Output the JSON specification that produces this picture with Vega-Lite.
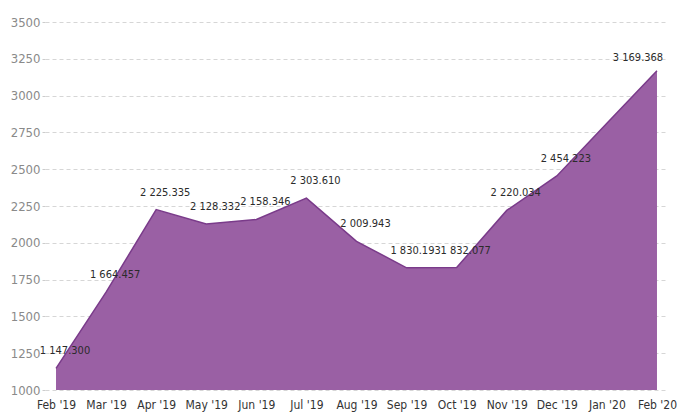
{
  "$schema": "https://vega.github.io/schema/vega-lite/v6.json",
  "width": 623,
  "height": 368,
  "autosize": {"type": "none"},
  "padding": {"left": 45, "top": 22, "right": 9, "bottom": 28},
  "background": "white",
  "config": {
    "view": {"stroke": null},
    "font": "DejaVu Sans Condensed"
  },
  "data": {
    "values": [
      {"month": "Feb '19", "value": 1147.300, "label": "1 147.300"},
      {"month": "Mar '19", "value": 1664.457, "label": "1 664.457"},
      {"month": "Apr '19", "value": 2225.335, "label": "2 225.335"},
      {"month": "May '19", "value": 2128.332, "label": "2 128.332"},
      {"month": "Jun '19", "value": 2158.346, "label": "2 158.346"},
      {"month": "Jul '19", "value": 2303.610, "label": "2 303.610"},
      {"month": "Aug '19", "value": 2009.943, "label": "2 009.943"},
      {"month": "Sep '19", "value": 1830.193, "label": "1 830.193"},
      {"month": "Oct '19", "value": 1832.077, "label": "1 832.077"},
      {"month": "Nov '19", "value": 2220.034, "label": "2 220.034"},
      {"month": "Dec '19", "value": 2454.223, "label": "2 454.223"},
      {"month": "Jan '20", "value": 2812, "label": ""},
      {"month": "Feb '20", "value": 3169.368, "label": "3 169.368"}
    ]
  },
  "encoding": {
    "x": {
      "field": "month",
      "type": "ordinal",
      "sort": null,
      "scale": {"type": "point", "padding": 0.22},
      "axis": {
        "title": null,
        "labelAngle": 0,
        "labelOverlap": false,
        "domain": false,
        "ticks": false,
        "labelFontSize": 12,
        "labelColor": "#333333",
        "labelPadding": 9
      }
    },
    "y": {
      "field": "value",
      "type": "quantitative",
      "scale": {"domain": [1000, 3500], "nice": false, "zero": false},
      "axis": {
        "title": null,
        "format": "d",
        "values": [1000, 1250, 1500, 1750, 2000, 2250, 2500, 2750, 3000, 3250, 3500],
        "domain": false,
        "ticks": true,
        "tickSize": 3,
        "tickColor": "#cccccc",
        "grid": true,
        "gridColor": "#d6d6d6",
        "gridDash": [4, 3],
        "labelFontSize": 13,
        "labelColor": "#8a8a8a",
        "labelPadding": 2
      }
    }
  },
  "layer": [
    {
      "mark": {"type": "area", "color": "#9a60a4", "opacity": 1, "line": {"color": "#7a3b8a", "strokeWidth": 1.5}},
      "encoding": {"y2": {"datum": 1000}}
    },
    {
      "transform": [{"filter": "datum.month !== \"Feb '20\""}],
      "mark": {"type": "text", "dx": 9, "dy": -12, "fontSize": 11, "color": "#2b2b2b", "baseline": "bottom"},
      "encoding": {"text": {"field": "label"}}
    },
    {
      "transform": [{"filter": "datum.month === \"Feb '20\""}],
      "mark": {"type": "text", "dx": -19, "dy": -8, "fontSize": 11, "color": "#2b2b2b", "baseline": "bottom"},
      "encoding": {"text": {"field": "label"}}
    }
  ]
}
